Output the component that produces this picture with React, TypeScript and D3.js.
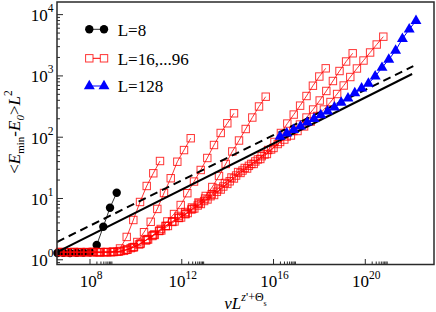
import React, { useEffect } from 'react';
import * as d3 from 'd3';

// ---------------- data ----------------
// L = 8 (black circles)
const l8X = [3.8e6, 6.92e6, 1.34e7, 2.63e7, 5.15e7, 1.0e8, 1.96e8, 3.8e8, 7.45e8, 1.46e9];
const l8Y = [1.29, 1.3, 1.29, 1.3, 1.31, 1.33, 1.74, 3.47, 7.08, 12.4];

// L = 16, ..., 96 (red open squares), one pair of arrays per size
const redAX = [4.92e6, 9.64e6, 1.87e7, 3.66e7, 7.18e7, 1.393e8, 2.73e8, 5.35e8, 1.038e9, 2.03e9, 3.98e9, 7.73e9, 1.514e10, 2.965e10, 5.74e10, 1.125e11];
const redAY = [1.34, 1.33, 1.34, 1.33, 1.34, 1.34, 1.33, 1.34, 1.365, 1.53, 2.36, 4.46, 8.77, 16.0, 25.8, 40.9];

const redBX = [7.36e6, 1.442e7, 2.79e7, 5.47e7, 1.074e8, 2.08e8, 4.07e8, 7.98e8, 1.549e9, 3.03e9, 5.94e9, 1.153e10, 2.26e10, 4.43e10, 8.59e10, 1.683e11, 3.3e11, 6.4e11, 1.253e12, 2.455e12];
const redBY = [1.33, 1.33, 1.32, 1.33, 1.33, 1.33, 1.33, 1.33, 1.35, 1.4, 1.55, 1.95, 2.82, 4.17, 6.76, 12.3, 21.4, 39.8, 61.7, 96.2];

const redCX = [5.28e6, 1.023e7, 2.01e7, 3.94e7, 7.62e7, 1.493e8, 2.92e8, 5.68e8, 1.112e9, 2.18e9, 4.23e9, 8.28e9, 1.622e10, 3.15e10, 6.17e10, 1.208e11, 2.344e11, 4.59e11, 8.99e11, 1.746e12, 3.42e12, 6.7e12, 1.297e13, 2.54e13, 4.98e13, 9.66e13, 1.892e14];
const redCY = [1.34, 1.33, 1.34, 1.34, 1.33, 1.34, 1.34, 1.33, 1.34, 1.393, 1.472, 1.618, 1.845, 2.18, 2.59, 3.18, 4.22, 5.58, 7.83, 12.2, 18.9, 29.2, 45.8, 74.6, 117.2, 168.7, 245.5];

const redDX = [1.259e8, 2.47e8, 4.83e8, 9.38e8, 1.837e9, 3.6e9, 6.98e9, 1.368e10, 2.68e10, 5.2e10, 1.019e11, 1.995e11, 3.87e11, 7.59e11, 1.486e12, 2.88e12, 5.65e12, 1.107e13, 2.14e13, 4.2e13, 8.22e13, 1.596e14, 3.13e14, 6.12e14, 1.189e15, 2.33e15, 4.56e15];
const redDY = [1.34, 1.32, 1.34, 1.34, 1.36, 1.45, 1.59, 1.78, 2.07, 2.44, 2.95, 3.56, 4.14, 4.81, 5.58, 6.75, 8.28, 11.0, 15.4, 23.3, 36.6, 58.5, 88.3, 136.1, 209.4, 317, 458];

const redEX = [4.23e9, 8.04e9, 1.528e10, 2.9e10, 5.52e10, 1.05e11, 1.995e11, 3.79e11, 7.21e11, 1.371e12, 2.61e12, 4.95e12, 9.42e12, 1.791e13, 3.4e13, 6.47e13, 1.23e14, 2.34e14, 4.45e14, 8.45e14, 1.607e15, 3.05e15, 5.81e15, 1.104e16, 2.1e16, 3.99e16, 7.59e16, 1.442e17, 2.74e17, 5.21e17, 9.91e17, 1.884e18];
const redEY = [1.46, 1.6, 1.81, 2.1, 2.51, 2.97, 3.56, 4.2, 4.84, 5.58, 6.62, 7.69, 9.1, 10.9, 12.9, 15.7, 19.1, 23.7, 28.6, 34.1, 40.2, 49.0, 61.8, 83.6, 117.2, 167, 234, 327, 470, 692, 977, 1330];

const redFX = [3.41e10, 6.61e10, 1.282e11, 2.49e11, 4.83e11, 9.35e11, 1.816e12, 3.52e12, 6.82e12, 1.324e13, 2.57e13, 4.98e13, 9.66e13, 1.875e14, 3.64e14, 7.05e14, 1.368e15, 2.65e15, 5.14e15, 9.98e15, 1.936e16, 3.76e16, 7.28e16, 1.413e17, 2.74e17, 5.32e17, 1.03e18, 2.0e18, 3.88e18, 7.52e18, 1.459e19, 2.83e19];
const redFY = [2.14, 2.54, 3.01, 3.56, 4.22, 4.9, 5.79, 6.87, 8.13, 9.64, 11.4, 14.0, 17.3, 21.2, 26.1, 30.8, 36.6, 44.1, 53.2, 66.7, 83.6, 102.6, 126.2, 161, 209.4, 283, 397, 568, 826, 1202, 1718, 2339];

const redGX = [7.36e11, 1.426e12, 2.77e12, 5.37e12, 1.04e13, 2.02e13, 3.92e13, 7.6e13, 1.472e14, 2.86e14, 5.55e14, 1.074e15, 2.08e15, 4.05e15, 7.85e15, 1.521e16, 2.95e16, 5.73e16, 1.109e17, 2.15e17, 4.18e17, 8.09e17, 1.57e18, 3.05e18, 5.92e18, 1.146e19, 2.22e19, 4.32e19, 8.36e19, 1.622e20, 3.15e20, 6.11e20];
const redGY = [5.19, 6.03, 7.13, 8.61, 10.0, 11.8, 14.6, 17.9, 22.0, 27.0, 31.5, 36.6, 43.3, 52.2, 63.0, 77.4, 91.6, 106.7, 126.2, 150, 180, 222, 283, 375, 507, 697, 959, 1321, 1782, 2410, 3251, 4365];

// L = 128 (blue triangles)
const l128X = [1.919e16, 3.79e16, 7.5e16, 1.486e17, 2.94e17, 5.82e17, 1.151e18, 2.28e18, 4.51e18, 8.91e18, 1.766e19, 3.49e19, 6.92e19, 1.368e20, 2.7e20, 5.36e20, 1.059e21, 2.1e21, 4.15e21, 8.22e21, 1.626e22];
const l128Y = [102.6, 116.1, 131.5, 151, 174, 200, 230, 265, 306, 366, 432, 526, 628, 752, 982, 1361, 1854, 2594, 4027, 5741, 7943];

// power-law guide lines (solid and dashed)
const fitSolidX = [3.64e6, 1.1e22];
const fitSolidY = [1.34, 1075];
const fitDashX = [3.64e6, 1.24e22];
const fitDashY = [1.95, 1449];

// axes
const xDomain = [3.64e6, 9.9e22];
const yDomain = [0.838, 16060];
const xTickExps = [8, 12, 16, 20];
const yTickExps = [0, 1, 2, 3, 4];
const legendLabels = ['L=8', 'L=16,...96', 'L=128'];

// ---------------- layout ----------------
const W = 436;
const H = 312;
const P = { left: 57, right: 434, top: 2, bottom: 264.5 };
const FONT = "'Liberation Serif', 'Nimbus Roman', 'DejaVu Serif', 'Noto Serif', serif";
const RED = '#ff0000';
const BLUE = '#0000ff';

const zip = (xs: number[], ys: number[]) => xs.map((v, i) => [v, ys[i]] as [number, number]);

export default function App() {
  useEffect(() => {
    document.body.style.margin = '0';
  }, []);

  const x = d3.scaleLog().domain(xDomain).range([P.left, P.right]);
  const y = d3.scaleLog().domain(yDomain).range([P.bottom, P.top]);
  const line = d3
    .line<[number, number]>()
    .x((d) => x(d[0]))
    .y((d) => y(d[1]));

  const redSeries = [
    zip(redAX, redAY),
    zip(redBX, redBY),
    zip(redCX, redCY),
    zip(redDX, redDY),
    zip(redEX, redEY),
    zip(redFX, redFY),
    zip(redGX, redGY),
  ];
  const black = zip(l8X, l8Y);
  const blue = zip(l128X, l128Y);

  const tri = d3.symbol().type(d3.symbolTriangle).size(52)() as string;

  const xMinor: number[] = [];
  xTickExps.forEach((e) => {
    for (let k = 2; k <= 9; k++) xMinor.push(k * Math.pow(10, e));
  });
  const yMinor: number[] = [];
  for (let e = -1; e <= 4; e++) {
    for (let k = 2; k <= 9; k++) {
      const v = k * Math.pow(10, e);
      if (v > yDomain[0] && v < yDomain[1]) yMinor.push(v);
    }
  }

  const sq = 7.4;
  const txt = { fontFamily: FONT };

  return (
    <svg
      width={W}
      height={H}
      viewBox={`0 0 ${W} ${H}`}
      style={{ position: 'absolute', left: 0, top: 0, background: '#fff', fontFamily: FONT }}
    >
      <rect x={0} y={0} width={W} height={H} fill="#fff" />
      <defs>
        <clipPath id="plotClip">
          <rect x={P.left} y={P.top} width={P.right - P.left} height={P.bottom - P.top} />
        </clipPath>
      </defs>

      {/* L=8 */}
      <g>
        <path d={line(black) || ''} fill="none" stroke="#333" strokeWidth={1} clipPath="url(#plotClip)" />
        {black.map((d, i) => (
          <circle key={i} cx={x(d[0])} cy={y(d[1])} r={4.2} fill="#000" />
        ))}
      </g>

      {/* L=16..96 */}
      <g>
        {redSeries.map((s, j) => (
          <path key={j} d={line(s) || ''} fill="none" stroke={RED} strokeWidth={0.8} />
        ))}
        {redSeries.map((s, j) =>
          s.map((d, i) => (
            <rect
              key={`${j}-${i}`}
              x={x(d[0]) - sq / 2}
              y={y(d[1]) - sq / 2}
              width={sq}
              height={sq}
              fill="none"
              stroke={RED}
              strokeOpacity={0.8}
              strokeWidth={1}
            />
          ))
        )}
      </g>

      {/* guide lines */}
      <g clipPath="url(#plotClip)">
        <path d={line(zip(fitSolidX, fitSolidY)) || ''} fill="none" stroke="#000" strokeWidth={2} />
        <path
          d={line(zip(fitDashX, fitDashY)) || ''}
          fill="none"
          stroke="#000"
          strokeWidth={2}
          strokeDasharray="8,5"
        />
      </g>

      {/* L=128 */}
      <g>
        <path d={line(blue) || ''} fill="none" stroke={BLUE} strokeWidth={1} />
        {blue.map((d, i) => (
          <path key={i} d={tri} transform={`translate(${x(d[0])},${y(d[1])})`} fill={BLUE} />
        ))}
      </g>

      {/* frame */}
      <rect
        x={P.left}
        y={P.top}
        width={P.right - P.left}
        height={P.bottom - P.top}
        fill="none"
        stroke="#2a2a2a"
        strokeWidth={1.5}
      />

      {/* x ticks */}
      <g stroke="#2a2a2a" strokeWidth={1}>
        {xTickExps.map((e) => {
          const px = x(Math.pow(10, e));
          return <line key={e} x1={px} x2={px} y1={P.bottom} y2={P.bottom - 5.5} />;
        })}
        {xMinor.map((v, i) => {
          const px = x(v);
          return <line key={i} x1={px} x2={px} y1={P.bottom} y2={P.bottom - 3} />;
        })}
      </g>
      {xTickExps.map((e) => (
        <text key={e} x={x(Math.pow(10, e)) + 1} y={287} textAnchor="middle" fontSize={17} fill="#000" style={txt}>
          10
          <tspan fontSize={11.5} dy={-8.5}>
            {e}
          </tspan>
        </text>
      ))}

      {/* y ticks */}
      <g stroke="#2a2a2a" strokeWidth={1}>
        {yTickExps.map((e) => {
          const py = y(Math.pow(10, e));
          return <line key={e} x1={P.left} x2={P.left + 6} y1={py} y2={py} />;
        })}
        {yMinor.map((v, i) => {
          const py = y(v);
          return <line key={i} x1={P.left} x2={P.left + 3} y1={py} y2={py} />;
        })}
      </g>
      {yTickExps.map((e) => (
        <text key={e} x={53.5} y={y(Math.pow(10, e)) + 6.4} textAnchor="end" fontSize={17} fill="#000" style={txt}>
          10
          <tspan fontSize={11.5} dy={-9}>
            {e}
          </tspan>
        </text>
      ))}

      {/* axis titles */}
      <text transform="translate(20,132) rotate(-90)" textAnchor="middle" fontSize={17} fill="#000" style={txt}>
        {'<'}
        <tspan fontStyle="italic">E</tspan>
        <tspan fontSize={11} dy={4}>
          min
        </tspan>
        <tspan dy={-4}>-</tspan>
        <tspan fontStyle="italic">E</tspan>
        <tspan fontSize={11} fontStyle="italic" dy={4}>
          0
        </tspan>
        <tspan dy={-4}>{'>'}</tspan>
        <tspan fontStyle="italic">L</tspan>
        <tspan fontSize={11.5} dy={-8}>
          2
        </tspan>
      </text>

      <text x={245.5} y={309} textAnchor="middle" fontSize={17} fill="#000" style={txt}>
        <tspan fontStyle="italic">vL</tspan>
        <tspan fontSize={12} dy={-8.5}>
          <tspan fontStyle="italic">z</tspan>
          {"'+Θ"}
        </tspan>
        <tspan fontSize={8} dy={5}>
          s
        </tspan>
      </text>

      {/* legend */}
      <g>
        {legendLabels.map((lab, i) => {
          const cy = [29.3, 58.3, 86][i];
          const x1 = 89.3;
          const x2 = 104;
          return (
            <g key={lab}>
              <line x1={x1} x2={x2} y1={cy} y2={cy} stroke={i === 0 ? '#333' : i === 1 ? RED : BLUE} strokeWidth={1} />
              {i === 0 && [x1, x2].map((cx) => <circle key={cx} cx={cx} cy={cy} r={4.2} fill="#000" />)}
              {i === 1 &&
                [x1, x2].map((cx) => (
                  <rect
                    key={cx}
                    x={cx - sq / 2}
                    y={cy - sq / 2}
                    width={sq}
                    height={sq}
                    fill="#fff"
                    stroke={RED}
                    strokeOpacity={0.8}
                    strokeWidth={1}
                  />
                ))}
              {i === 2 &&
                [x1, x2].map((cx) => <path key={cx} d={tri} transform={`translate(${cx},${cy})`} fill={BLUE} />)}
              <text x={117.7} y={cy + 6.2} fontSize={17} fill="#000" style={txt}>
                {lab}
              </text>
            </g>
          );
        })}
      </g>
    </svg>
  );
}
